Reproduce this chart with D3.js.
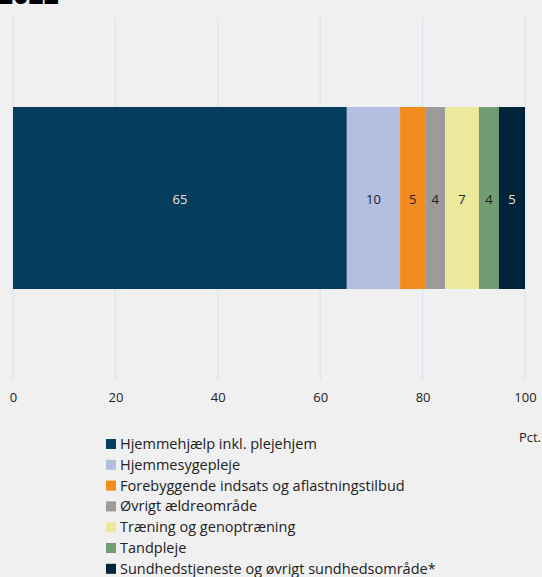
<!DOCTYPE html>
<html><head><meta charset="utf-8">
<script src="https://cdn.jsdelivr.net/npm/d3@7"></script>
<style>
html,body{margin:0;padding:0;background:#f0f0f0;}
svg{display:block;font-family:"Open Sans",sans-serif;}
</style></head><body>
<svg id="chart" width="542" height="577"></svg>
<script>
const categories = ["Hjemmehjælp inkl. plejehjem","Hjemmesygepleje","Forebyggende indsats og aflastningstilbud","Øvrigt ældreområde","Træning og genoptræning","Tandpleje","Sundhedstjeneste og øvrigt sundhedsområde*"];
const values = [65.2, 10.4, 4.9, 3.9, 6.6, 3.9, 5.1];
const labels = ["65","10","5","4","7","4","5"];
const colors = ["#053d5e","#b2bfe0","#f28c1f","#9c9a9a","#ece99c","#729c72","#00243a"];
const labelColors = ["#e6e6e6","#222","#222","#222","#222","#222","#e6e6e6"];
const ticks = [0,20,40,60,80,100];
const title = "2022";
const unit = "Pct.";

const svg = d3.select("#chart");
const x = d3.scaleLinear().domain([0,100]).range([13,525]);

svg.append("text").attr("x",-2).attr("y",4).attr("font-size",26).attr("font-weight",800).attr("fill","#000").text(title);

svg.append("g").selectAll("line").data(ticks).join("line")
  .attr("x1",d=>x(d)).attr("x2",d=>x(d)).attr("y1",17).attr("y2",380)
  .attr("stroke","#cfe3f3").attr("stroke-width",1);

let cum = 0;
const segs = values.map((v,i)=>{const s={i,v,x0:cum,x1:cum+v};cum+=v;return s;});
svg.append("g").selectAll("rect").data(segs).join("rect")
  .attr("x",d=>x(d.x0)).attr("width",d=>x(d.x1)-x(d.x0))
  .attr("y",107).attr("height",182).attr("fill",d=>colors[d.i]);
svg.append("g").selectAll("text").data(segs).join("text")
  .attr("x",d=>(x(d.x0)+x(d.x1))/2).attr("y",199).attr("dy","0.35em")
  .attr("text-anchor","middle").attr("font-size",13).attr("fill",d=>labelColors[d.i])
  .text(d=>labels[d.i]);

const axis = d3.axisBottom(x).tickValues(ticks).tickSize(0).tickPadding(0);
const ag = svg.append("g").attr("transform","translate(0,393)").call(axis);
ag.select(".domain").remove();
ag.selectAll("text").attr("font-size",13).attr("fill","#222").attr("font-family","'Open Sans',sans-serif");

svg.append("text").attr("x",541).attr("y",442).attr("text-anchor","end").attr("font-size",13).attr("fill","#222").text(unit);

const lg = svg.append("g").selectAll("g").data(categories).join("g")
  .attr("transform",(d,i)=>`translate(106,${444+i*20.8})`);
lg.append("rect").attr("x",0).attr("y",-5).attr("width",10).attr("height",10).attr("fill",(d,i)=>colors[i]);
lg.append("text").attr("x",14).attr("y",0).attr("dy","0.35em").attr("font-size",14.5).attr("fill","#222").text(d=>d);
</script>
</body></html>
